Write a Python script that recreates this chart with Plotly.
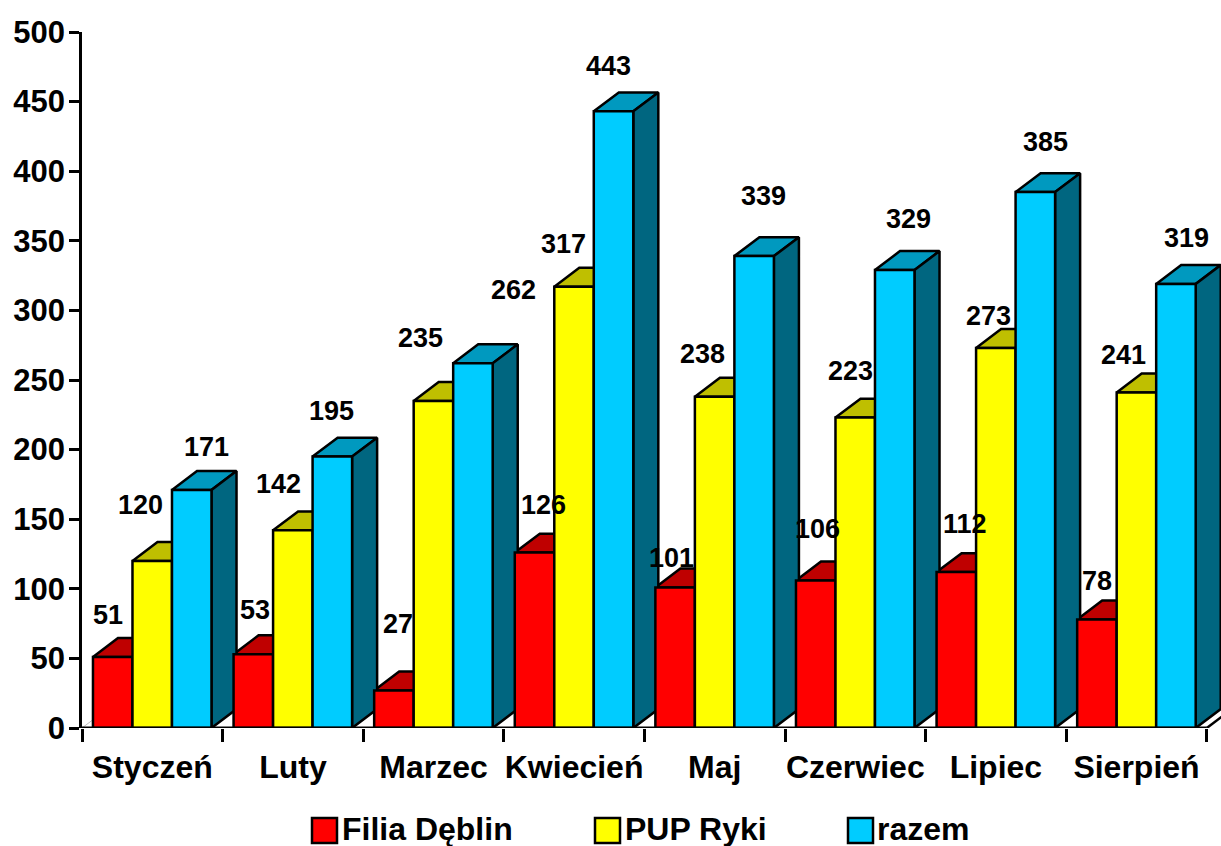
import plotly.graph_objects as go

months = ["Styczeń", "Luty", "Marzec", "Kwiecień", "Maj", "Czerwiec", "Lipiec", "Sierpień"]
filia = [51, 53, 27, 126, 101, 106, 112, 78]
pup = [120, 142, 235, 317, 238, 223, 273, 241]
razem = [171, 195, 262, 443, 339, 329, 385, 319]
y_ticks = [0, 50, 100, 150, 200, 250, 300, 350, 400, 450, 500]

# hand placed value labels, pixels away from the top of each bar
filia_shift = [(-5, 42), (2, 44), (4, 66), (9, 48), (-4, 29), (2, 51), (9, 48), (0, 38)]
pup_shift = [(-12, 56), (-14, 46), (-13, 63), (-11, 43), (-12, 43), (-5, 47), (-7, 32), (-13, 38)]
razem_shift = [(15, 43), (-1, 46), (41, 73), (-5, 45), (9, 60), (14, 51), (10, 50), (11, 46)]

# legend swatch left edge and text left edge, pixels
legend_x = [(312, 342), (595, 625), (848, 877)]

SERIES = [
    ("Filia Dęblin", filia, filia_shift, "#FF0000", "#BF0000", "#800000"),
    ("PUP Ryki", pup, pup_shift, "#FFFF00", "#BFBF00", "#808000"),
    ("razem", razem, razem_shift, "#00CCFF", "#0099BF", "#006680"),
]

PLOT_L, PLOT_T, PLOT_B = 82, 32, 728
PLOT_W = 1221 - PLOT_L
PLOT_H = PLOT_B - PLOT_T

BAR_W = 0.281
GAP = 0.078
DEPTH_X = 0.178
DEPTH_Y = 13.6
X_MAX = PLOT_W / 140.6
LINE = dict(color="black", width=2.5)
FONT = dict(family="Liberation Sans", size=31, color="black", weight=700)
BIG_FONT = dict(family="Liberation Sans", size=32, color="black", weight=700)


def paper_x(px):
    return (px - PLOT_L) / PLOT_W


def paper_y(py):
    return (PLOT_B - py) / PLOT_H


fig = go.Figure()

# floor edges behind everything
fig.add_trace(go.Scatter(x=[8, 8 + DEPTH_X], y=[0, DEPTH_Y], mode="lines", line=LINE,
                         showlegend=False, cliponaxis=False, hoverinfo="skip"))
fig.add_trace(go.Scatter(x=[0, DEPTH_X], y=[0, DEPTH_Y], mode="lines",
                         line=dict(color="#BBBBBB", width=1), showlegend=False, hoverinfo="skip"))

annotations = []
shapes = []
for s, (name, values, shifts, front, top, side) in enumerate(SERIES):
    xs = [i + GAP + BAR_W * (s + 0.5) for i in range(len(months))]

    for x, v in zip(xs, values):
        left = x - BAR_W / 2
        right = x + BAR_W / 2
        fig.add_trace(go.Scatter(
            x=[left, right, right + DEPTH_X, left + DEPTH_X, left],
            y=[v, v, v + DEPTH_Y, v + DEPTH_Y, v],
            mode="lines", fill="toself", fillcolor=top, line=LINE,
            showlegend=False, cliponaxis=False, hoverinfo="skip"))
        fig.add_trace(go.Scatter(
            x=[right, right + DEPTH_X, right + DEPTH_X, right, right],
            y=[0, DEPTH_Y, v + DEPTH_Y, v, 0],
            mode="lines", fill="toself", fillcolor=side, line=LINE,
            showlegend=False, cliponaxis=False, hoverinfo="skip"))

    fig.add_trace(go.Bar(x=xs, y=values, width=BAR_W, name=name, marker=dict(color=front, line=LINE),
                         xaxis="x2", yaxis="y2", showlegend=False))

    for x, v, (dx, dy) in zip(xs, values, shifts):
        annotations.append(dict(x=x, y=v, xref="x", yref="y", text=str(v), showarrow=False,
                                xshift=dx, yshift=dy, xanchor="center", yanchor="middle",
                                font=dict(family="Liberation Sans", size=27, color="black", weight=700)))

    # legend by hand, plotly caps the swatch size
    box_x, text_x = legend_x[s]
    shapes.append(dict(type="rect", xref="paper", yref="paper",
                       x0=paper_x(box_x), x1=paper_x(box_x + 25),
                       y0=paper_y(843), y1=paper_y(818),
                       fillcolor=front, line=LINE))
    annotations.append(dict(x=paper_x(text_x), y=paper_y(828.5), xref="paper", yref="paper",
                            text=name, showarrow=False, xanchor="left", yanchor="middle", xshift=-2,
                            font=BIG_FONT))

# axis line stops at the last category, not at the plot edge
fig.add_trace(go.Scatter(x=[0, 8], y=[0, 0], mode="lines", line=dict(color="black", width=3),
                         xaxis="x2", yaxis="y2", showlegend=False, cliponaxis=False, hoverinfo="skip"))

fig.update_layout(
    width=1221,
    height=846,
    margin=dict(l=PLOT_L, r=0, t=PLOT_T, b=846 - PLOT_B),
    paper_bgcolor="white",
    plot_bgcolor="white",
    barmode="overlay",
    showlegend=False,
    annotations=annotations,
    shapes=shapes,
    xaxis=dict(
        range=[0, X_MAX],
        tickmode="array",
        tickvals=[i + 0.5 for i in range(len(months))],
        ticktext=months,
        ticks="",
        tickfont=BIG_FONT,
        showgrid=False,
        zeroline=False,
        ticklabelstandoff=17,
        minor=dict(tickmode="array", tickvals=list(range(9)), ticks="outside",
                   ticklen=13, tickwidth=2.5, tickcolor="black", showgrid=False),
    ),
    yaxis=dict(
        range=[0, 500],
        tickmode="array",
        tickvals=y_ticks,
        ticks="outside",
        ticklen=10,
        tickwidth=2.5,
        tickcolor="black",
        tickfont=FONT,
        ticklabelstandoff=-2,
        showline=True,
        linecolor="black",
        linewidth=2.5,
        showgrid=False,
        zeroline=False,
    ),
    xaxis2=dict(range=[0, X_MAX], overlaying="x", visible=False),
    yaxis2=dict(range=[0, 500], overlaying="y", visible=False),
)

# page margin would push the plot 8px off
fig.write_html("out.html", config={"displayModeBar": False},
               post_script="document.body.style.margin = '0';")
